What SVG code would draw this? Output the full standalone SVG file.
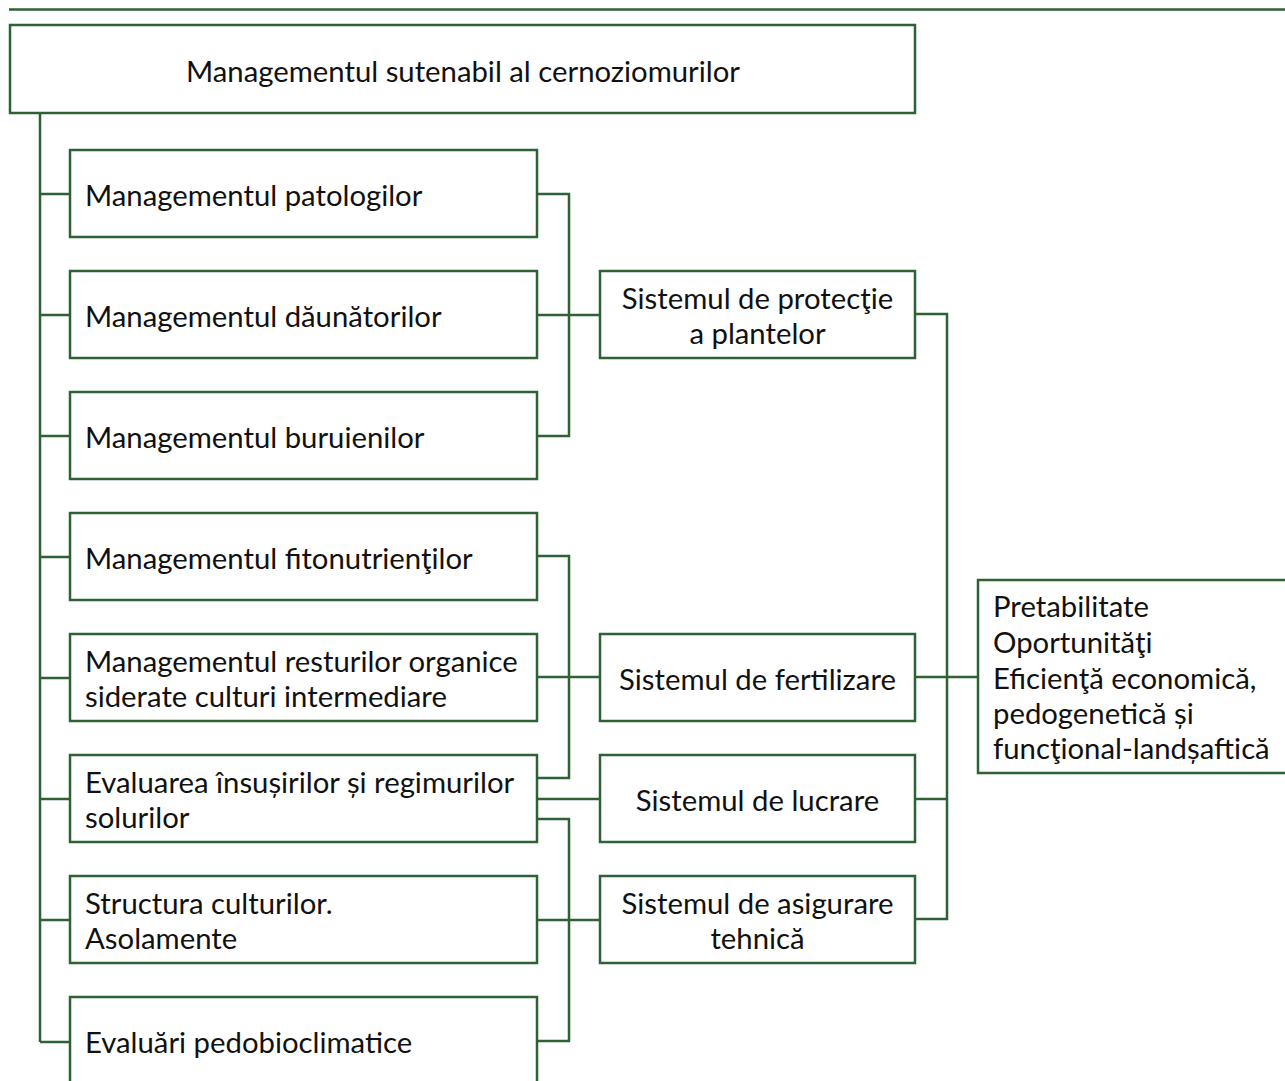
<svg xmlns="http://www.w3.org/2000/svg" width="1285" height="1081" viewBox="0 0 1285 1081">
  <style>
    .box { fill: #ffffff; stroke: #2e6134; stroke-width: 2.5; }
    .wire { fill: none; stroke: #2e6134; stroke-width: 2.5; }
    text { font-family: Lato, "Liberation Sans", sans-serif; font-size: 29.3px; fill: #111111; }
    .c { text-anchor: middle; }
  </style>
  <rect width="1285" height="1081" fill="#ffffff"/>
  <line class="wire" x1="9" y1="9.5" x2="1285" y2="9.5"/>

  <!-- connectors -->
  <g id="connectors">
    <!-- main trunk -->
    <path class="wire" d="M40,113 V1042 M40,194 H70 M40,315 H70 M40,436 H70 M40,557 H70 M40,678 H70 M40,799 H70 M40,920 H70 M40,1042 H70"/>
    <!-- protection bracket -->
    <path class="wire" d="M537,194 H569 V436 H537 M537,315 H600"/>
    <!-- fertilization bracket -->
    <path class="wire" d="M537,556 H569 V778 H537 M537,677 H600"/>
    <!-- tillage -->
    <path class="wire" d="M537,799 H600"/>
    <!-- technical bracket -->
    <path class="wire" d="M537,819 H569 V1041 H537 M537,920 H600"/>
    <!-- systems to outcome -->
    <path class="wire" d="M915,314 H947 V919 H915 M915,799 H947 M915,677 H978"/>
  </g>

  <g id="root">
    <rect class="box" x="10" y="25" width="905" height="88"/>
    <text class="c" x="463" y="82">Managementul sutenabil al cernoziomurilor</text>
  </g>

  <g id="n-patologii">
    <rect class="box" x="70" y="150" width="467" height="87"/>
    <text x="85" y="206">Managementul patologilor</text>
  </g>
  <g id="n-daunatori">
    <rect class="box" x="70" y="271" width="467" height="87"/>
    <text x="85" y="327">Managementul dăunătorilor</text>
  </g>
  <g id="n-buruieni">
    <rect class="box" x="70" y="392" width="467" height="87"/>
    <text x="85" y="448">Managementul buruienilor</text>
  </g>
  <g id="n-fitonutrienti">
    <rect class="box" x="70" y="513" width="467" height="87"/>
    <text x="85" y="569">Managementul fitonutrienţilor</text>
  </g>
  <g id="n-resturi">
    <rect class="box" x="70" y="634" width="467" height="87"/>
    <text x="85" y="671.5">Managementul resturilor organice</text>
    <text x="85" y="706.5">siderate culturi intermediare</text>
  </g>
  <g id="n-evaluarea">
    <rect class="box" x="70" y="755" width="467" height="87"/>
    <text x="85" y="792.5">Evaluarea însușirilor și regimurilor</text>
    <text x="85" y="827.5">solurilor</text>
  </g>
  <g id="n-structura">
    <rect class="box" x="70" y="876" width="467" height="87"/>
    <text x="85" y="913.5">Structura culturilor.</text>
    <text x="85" y="948.5">Asolamente</text>
  </g>
  <g id="n-pedobioclimatice">
    <rect class="box" x="70" y="997" width="467" height="100"/>
    <text x="85" y="1053">Evaluări pedobioclimatice</text>
  </g>

  <g id="s-protectie">
    <rect class="box" x="600" y="271" width="315" height="87"/>
    <text class="c" x="757.5" y="308.5">Sistemul de protecţie</text>
    <text class="c" x="757.5" y="343.5">a plantelor</text>
  </g>
  <g id="s-fertilizare">
    <rect class="box" x="600" y="634" width="315" height="87"/>
    <text class="c" x="757.5" y="690">Sistemul de fertilizare</text>
  </g>
  <g id="s-lucrare">
    <rect class="box" x="600" y="755" width="315" height="87"/>
    <text class="c" x="757.5" y="811">Sistemul de lucrare</text>
  </g>
  <g id="s-asigurare">
    <rect class="box" x="600" y="876" width="315" height="87"/>
    <text class="c" x="757.5" y="913.5">Sistemul de asigurare</text>
    <text class="c" x="757.5" y="948.5">tehnică</text>
  </g>

  <g id="outcome">
    <rect class="box" x="978" y="580" width="320" height="193"/>
    <text x="993" y="617">Pretabilitate</text>
    <text x="993" y="653">Oportunităţi</text>
    <text x="993" y="689">Eficienţă economică,</text>
    <text x="993" y="724">pedogenetică și</text>
    <text x="993" y="759">funcţional-landșaftică</text>
  </g>
</svg>
